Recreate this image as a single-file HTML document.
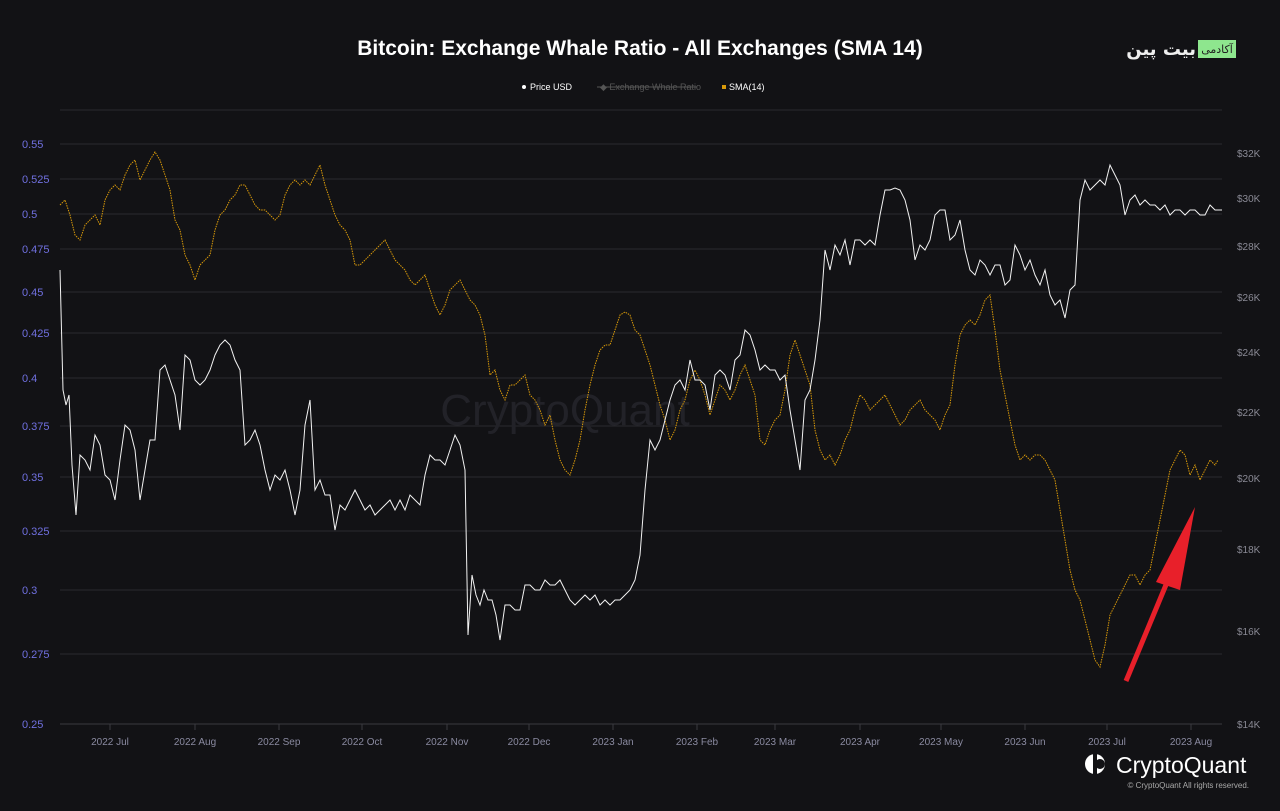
<!DOCTYPE html>
<html><head><meta charset="utf-8"><style>
html,body{margin:0;padding:0;background:#121215;}
body{width:1280px;height:806px;overflow:hidden;font-family:"Liberation Sans",sans-serif;}
</style></head><body>
<svg width="1280" height="806" xmlns="http://www.w3.org/2000/svg" font-family="Liberation Sans, sans-serif">
<rect width="1280" height="806" fill="#121215"/>
<text x="640" y="55" text-anchor="middle" fill="#fff" font-size="21" font-weight="bold">Bitcoin: Exchange Whale Ratio - All Exchanges (SMA 14)</text>
<rect x="1198" y="40" width="38" height="18" fill="#8ee68e"/>
<text x="1217" y="53" text-anchor="middle" fill="#222" font-size="11" font-family="DejaVu Sans, sans-serif">آکادمی</text>
<text x="1196" y="55" text-anchor="end" fill="#eee" font-size="18" font-weight="bold" font-family="DejaVu Sans, sans-serif">بیت پین</text>
<circle cx="524" cy="87" r="2" fill="#fff"/>
<text x="530" y="90" fill="#fff" font-size="9">Price USD</text>
<text x="600" y="90" fill="#555" font-size="9">◆ Exchange Whale Ratio</text>
<line x1="597" y1="87" x2="697" y2="87" stroke="#555" stroke-width="1"/>
<rect x="722" y="85" width="4" height="4" fill="#d99a0a"/>
<text x="729" y="90" fill="#fff" font-size="9">SMA(14)</text>
<g stroke="#2a2a2f" stroke-width="1">
<line x1="60" y1="110" x2="1222" y2="110"/>
<line x1="60" y1="144" x2="1222" y2="144"/><line x1="60" y1="179" x2="1222" y2="179"/>
<line x1="60" y1="214" x2="1222" y2="214"/><line x1="60" y1="249" x2="1222" y2="249"/>
<line x1="60" y1="292" x2="1222" y2="292"/><line x1="60" y1="333" x2="1222" y2="333"/>
<line x1="60" y1="378" x2="1222" y2="378"/><line x1="60" y1="426" x2="1222" y2="426"/>
<line x1="60" y1="477" x2="1222" y2="477"/><line x1="60" y1="531" x2="1222" y2="531"/>
<line x1="60" y1="590" x2="1222" y2="590"/><line x1="60" y1="654" x2="1222" y2="654"/>
</g>
<line x1="60" y1="724" x2="1222" y2="724" stroke="#3a3a40"/>
<g stroke="#3a3a40">
<line x1="110" y1="724" x2="110" y2="730"/><line x1="195" y1="724" x2="195" y2="730"/><line x1="279" y1="724" x2="279" y2="730"/><line x1="362" y1="724" x2="362" y2="730"/><line x1="447" y1="724" x2="447" y2="730"/><line x1="529" y1="724" x2="529" y2="730"/><line x1="613" y1="724" x2="613" y2="730"/><line x1="697" y1="724" x2="697" y2="730"/><line x1="775" y1="724" x2="775" y2="730"/><line x1="860" y1="724" x2="860" y2="730"/><line x1="941" y1="724" x2="941" y2="730"/><line x1="1025" y1="724" x2="1025" y2="730"/><line x1="1107" y1="724" x2="1107" y2="730"/><line x1="1191" y1="724" x2="1191" y2="730"/>
</g>
<g fill="#8a8aa0" font-size="10" text-anchor="middle">
<text x="110" y="745">2022 Jul</text><text x="195" y="745">2022 Aug</text><text x="279" y="745">2022 Sep</text><text x="362" y="745">2022 Oct</text><text x="447" y="745">2022 Nov</text><text x="529" y="745">2022 Dec</text><text x="613" y="745">2023 Jan</text><text x="697" y="745">2023 Feb</text><text x="775" y="745">2023 Mar</text><text x="860" y="745">2023 Apr</text><text x="941" y="745">2023 May</text><text x="1025" y="745">2023 Jun</text><text x="1107" y="745">2023 Jul</text><text x="1191" y="745">2023 Aug</text>
</g>
<g fill="#7070e0" font-size="11">
<text x="22" y="148">0.55</text><text x="22" y="183">0.525</text><text x="22" y="218">0.5</text><text x="22" y="253">0.475</text><text x="22" y="296">0.45</text><text x="22" y="337">0.425</text><text x="22" y="382">0.4</text><text x="22" y="430">0.375</text><text x="22" y="481">0.35</text><text x="22" y="535">0.325</text><text x="22" y="594">0.3</text><text x="22" y="658">0.275</text><text x="22" y="728">0.25</text>
</g>
<g fill="#8a8a95" font-size="10">
<text x="1237" y="157">$32K</text><text x="1237" y="202">$30K</text><text x="1237" y="250">$28K</text><text x="1237" y="301">$26K</text><text x="1237" y="356">$24K</text><text x="1237" y="416">$22K</text><text x="1237" y="482">$20K</text><text x="1237" y="553">$18K</text><text x="1237" y="635">$16K</text><text x="1237" y="728">$14K</text>
</g>
<text x="565" y="425" text-anchor="middle" fill="#222228" font-size="44">CryptoQuant</text>
<polyline fill="none" stroke="#d99a0a" stroke-width="1" stroke-dasharray="1.5,1" points="60,205 65,200 70,215 75,235 80,240 85,225 90,220 95,215 100,225 105,200 110,190 115,185 120,190 125,175 130,165 135,160 140,180 145,170 150,160 155,152 160,160 165,175 170,190 175,220 180,230 185,255 190,265 195,280 200,265 205,260 210,255 215,230 220,215 225,210 230,200 235,195 240,185 245,185 250,195 255,205 260,210 265,210 270,215 275,220 280,215 285,195 290,185 295,180 300,185 305,180 310,185 315,175 320,165 325,185 330,200 335,215 340,225 345,230 350,240 355,265 360,265 365,260 370,255 375,250 380,245 385,240 390,250 395,260 400,265 405,270 410,280 415,285 420,280 425,275 430,290 435,305 440,315 445,305 450,290 455,285 460,280 465,290 470,300 475,305 480,315 485,335 490,375 495,370 500,390 505,400 510,385 515,385 520,380 525,375 530,395 535,400 540,410 545,425 550,415 555,440 560,460 565,470 570,475 575,460 580,440 585,410 590,385 595,365 600,350 605,345 610,345 615,330 620,315 625,312 630,315 635,330 640,335 645,350 650,365 655,385 660,405 665,420 670,440 675,430 680,410 685,400 690,380 695,370 700,380 705,395 710,415 715,400 720,385 725,390 730,400 735,390 740,375 745,365 750,380 755,395 760,440 765,445 770,430 775,420 780,415 785,390 790,355 795,340 800,355 805,370 810,385 815,430 820,450 825,460 830,455 835,465 840,455 845,440 850,430 855,410 860,395 865,400 870,410 875,405 880,400 885,395 890,405 895,415 900,425 905,420 910,410 915,405 920,400 925,410 930,415 935,420 940,430 945,415 950,405 955,365 960,335 965,325 970,320 975,325 980,315 985,300 990,295 995,330 1000,370 1005,395 1010,420 1015,445 1020,460 1025,455 1030,460 1035,455 1040,455 1045,460 1050,470 1055,480 1060,510 1065,540 1070,570 1075,590 1080,600 1085,620 1090,640 1095,660 1100,667 1105,645 1110,615 1115,605 1120,595 1125,585 1130,575 1135,575 1140,585 1145,575 1150,570 1155,545 1160,520 1165,495 1170,470 1175,460 1180,450 1185,455 1190,475 1195,465 1200,480 1205,470 1210,460 1215,465 1218,460"/>
<polyline fill="none" stroke="#f2f2f2" stroke-width="1" points="60,270 63,390 66,405 69,395 72,465 76,515 80,455 85,460 90,470 95,435 100,445 105,475 110,480 115,500 120,460 125,425 130,430 135,450 140,500 145,470 150,440 155,440 160,370 165,365 170,380 175,395 180,430 185,355 190,360 195,380 200,385 205,380 210,370 215,355 220,345 225,340 230,345 235,360 240,370 245,445 250,440 255,430 260,445 265,470 270,490 275,475 280,480 285,470 290,490 295,515 300,490 305,425 310,400 315,490 320,480 325,495 330,495 335,530 340,505 345,510 350,500 355,490 360,500 365,510 370,505 375,515 380,510 385,505 390,500 395,510 400,500 405,510 410,495 415,500 420,505 425,475 430,455 435,460 440,460 445,465 450,450 455,435 460,445 465,470 468,635 472,575 476,595 480,605 484,590 488,600 492,600 496,615 500,640 505,605 510,605 515,610 520,610 525,585 530,585 535,590 540,590 545,580 550,585 555,585 560,580 565,590 570,600 575,605 580,600 585,595 590,600 595,595 600,605 605,600 610,605 615,600 620,600 625,595 630,590 635,580 640,555 645,490 650,440 655,450 660,440 665,420 670,400 675,385 680,380 685,390 690,360 695,380 700,380 705,385 710,410 715,375 720,370 725,375 730,390 735,360 740,355 745,330 750,335 755,350 760,370 765,365 770,370 775,370 780,380 785,375 790,410 795,440 800,470 805,400 810,390 815,360 820,320 825,250 830,270 835,245 840,255 845,240 850,265 855,240 860,240 865,245 870,240 875,245 880,215 885,190 890,190 895,188 900,190 905,200 910,220 915,260 920,245 925,250 930,240 935,215 940,210 945,210 950,240 955,235 960,220 965,250 970,270 975,275 980,260 985,265 990,275 995,265 1000,265 1005,285 1010,280 1015,245 1020,255 1025,270 1030,260 1035,275 1040,285 1045,270 1050,295 1055,305 1060,300 1065,318 1070,290 1075,285 1080,200 1085,180 1090,190 1095,185 1100,180 1105,185 1110,165 1115,175 1120,185 1125,215 1130,200 1135,195 1140,205 1145,200 1150,205 1155,205 1160,210 1165,205 1170,215 1175,210 1180,210 1185,215 1190,210 1195,210 1200,215 1205,215 1210,205 1215,210 1222,210"/>
<line x1="1126" y1="681" x2="1168" y2="580" stroke="#e8202a" stroke-width="5"/>
<polygon points="1195,507 1156,582 1180,590" fill="#e8202a"/>
<circle cx="1095" cy="764" r="10" fill="#fff"/>
<rect x="1093" y="752" width="4" height="24" fill="#121215"/>
<circle cx="1100" cy="764" r="5" fill="#121215"/>
<text x="1116" y="773" fill="#fff" font-size="23">CryptoQuant</text>
<text x="1249" y="788" text-anchor="end" fill="#aaa" font-size="8">© CryptoQuant All rights reserved.</text>
</svg>
</body></html>
